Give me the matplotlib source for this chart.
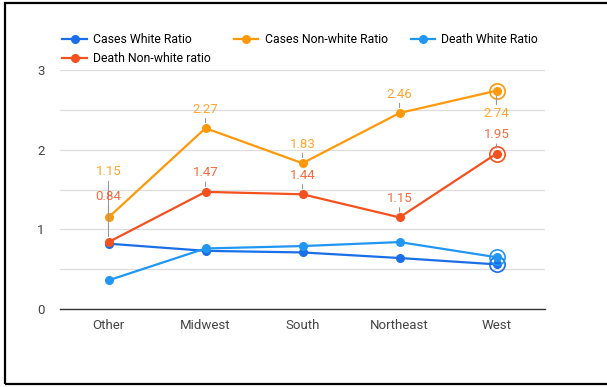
import matplotlib.pyplot as plt
from matplotlib.patches import Rectangle

plt.rcParams['font.family'] = ['Roboto', 'DejaVu Sans']

regions = ['Other', 'Midwest', 'South', 'Northeast', 'West']
cases_white = [0.82, 0.73, 0.71, 0.64, 0.56]
cases_nonwhite = [1.15, 2.27, 1.83, 2.46, 2.74]
death_white = [0.36, 0.76, 0.79, 0.84, 0.65]
death_nonwhite = [0.84, 1.47, 1.44, 1.15, 1.95]

series = [
    ('Cases White Ratio', cases_white, '#1a6fe8', False),
    ('Cases Non-white Ratio', cases_nonwhite, '#ff980a', True),
    ('Death White Ratio', death_white, '#2196f3', False),
    ('Death Non-white ratio', death_nonwhite, '#f4511e', True),
]

W, H = 607, 387
fig = plt.figure(figsize=(W / 100, H / 100), dpi=100)
ax = fig.add_axes([60 / W, (H - 309) / H, 485 / W, 239 / H])

x = list(range(len(regions)))
handles = []
for name, vals, color, labelled in series:
    h, = ax.plot(x, vals, color=color, lw=1.6, marker='o', ms=5.5, label=name,
                 clip_on=False, zorder=3)
    handles.append(h)
    # ring around the last point
    ax.plot(x[-1], vals[-1], marker='o', ms=11, mfc='none', mec=color,
            mew=1.2, clip_on=False, zorder=3)
    if labelled:
        for i, v in enumerate(vals):
            dy = 9
            if i == 0:
                dy = 28
            if name.startswith('Cases') and i == len(vals) - 1:
                dy = -12
            va = 'bottom' if dy > 0 else 'top'
            ax.annotate(f'{v:.2f}', (i, v), xytext=(0, dy), textcoords='offset points',
                        ha='center', va=va, fontsize=9.5, color=color, alpha=0.85,
                        arrowprops=dict(arrowstyle='-', color='#999999', lw=0.8,
                                        shrinkA=0, shrinkB=4))

ax.set_xlim(-0.5, len(regions) - 0.5)
ax.set_ylim(0, 3)
ax.set_xticks(x)
ax.set_xticklabels(regions)
ax.set_yticks([0, 1, 2, 3])
ax.set_yticks([0.5, 1.5, 2.5], minor=True)
ax.tick_params(axis='both', length=0, labelsize=9.5, colors='#444444')
ax.tick_params(axis='y', which='minor', length=0)
ax.tick_params(axis='x', pad=7)
ax.tick_params(axis='y', pad=11)
ax.grid(axis='y', which='both', color='#dddddd', lw=0.9)
ax.set_axisbelow(True)
for s in ['top', 'right', 'left']:
    ax.spines[s].set_visible(False)
ax.spines['bottom'].set_color('#333333')
ax.spines['bottom'].set_linewidth(1)

# legend is filled column-wise, reorder so it reads row-wise
order = [0, 3, 1, 2]
ax.legend([handles[i] for i in order], [handles[i].get_label() for i in order],
          loc='lower left', bbox_to_anchor=(-0.005, 1.0), ncol=3, frameon=False,
          fontsize=8.8, handlelength=2.0, columnspacing=1.9, handletextpad=0.5,
          labelspacing=0.5, borderaxespad=0)

# black frame around the card
fig.add_artist(Rectangle((5 / W, 3 / H), 1.05, (H - 6) / H, transform=fig.transFigure,
                         fill=False, ec='black', lw=1.6))

fig.savefig('out.png', dpi=100)
